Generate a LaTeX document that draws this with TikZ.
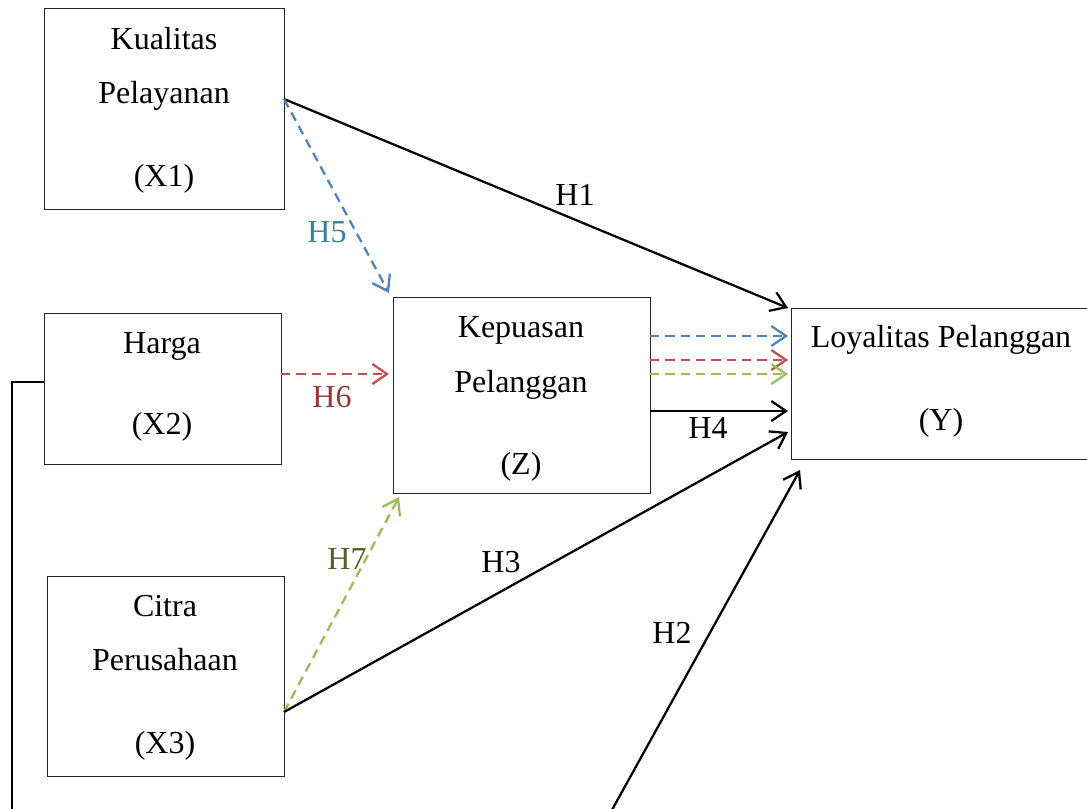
\documentclass[tikz,border=0pt]{standalone}
\usepackage{fontspec}
\setmainfont{Liberation Serif}
\usetikzlibrary{arrows.meta}
\definecolor{cblue}{HTML}{4F81BD}
\definecolor{cred}{HTML}{C0504D}
\definecolor{cgreen}{HTML}{9BBB59}
\definecolor{tblue}{HTML}{31849B}
\definecolor{tred}{HTML}{953735}
\definecolor{tgreen}{HTML}{4F6228}
\begin{document}
\begin{tikzpicture}[x=0.75pt,y=-0.75pt,
  box/.style={draw=black!85, line width=1pt, inner sep=0pt, anchor=north west},
  lbl/.style={inner sep=0pt, text height=16pt, text depth=0pt, font=\fontsize{24}{28}\selectfont},
  tip/.style={-{Straight Barb[length=11pt,width=15pt,line width=1.7pt]}},
  solidarrow/.style={tip, line width=1.7pt, black},
  dasharrow/.style={tip, line width=1.7pt, dash pattern=on 7pt off 4.5pt}]
\useasboundingbox (0,0) rectangle (1087,808);
\clip (0,0) rectangle (1087,808);
% boxes
\node[box, minimum width=180pt, minimum height=150.75pt] (x1) at (44,8) {};
\node[box, minimum width=177.75pt, minimum height=113.25pt] (x2) at (44,313) {};
\node[box, minimum width=177.75pt, minimum height=150pt] (x3) at (47,576) {};
\node[box, minimum width=192.75pt, minimum height=147pt] (z) at (393,297) {};
\node[box, minimum width=225pt, minimum height=113.25pt] (y) at (791,308) {};
% texts
\node[lbl] (x1a) at (164,39) {Kualitas};
\node[lbl] (x1b) at (164,93) {Pelayanan};
\node[lbl] (x1c) at (164,176) {(X1)};
\node[lbl] (x2a) at (162,343) {Harga};
\node[lbl] (x2b) at (162,424) {(X2)};
\node[lbl] (x3a) at (165,606) {Citra};
\node[lbl] (x3b) at (165,660) {Perusahaan};
\node[lbl] (x3c) at (165,743) {(X3)};
\node[lbl] (za) at (521,327) {Kepuasan};
\node[lbl] (zb) at (521,382) {Pelanggan};
\node[lbl] (zc) at (521,464) {(Z)};
\node[lbl] (ya) at (941,337) {Loyalitas Pelanggan};
\node[lbl] (yb) at (941,420) {(Y)};
% connector points
\coordinate (p1) at (284,99);
\coordinate (q1) at (788,308);
\coordinate (q5) at (389,293);
\coordinate (p6) at (281,374);
\coordinate (q6) at (389,374);
\coordinate (p3) at (284,712);
\coordinate (q3) at (788,432);
\coordinate (q7) at (399,497);
\coordinate (zb1) at (650,336);
\coordinate (yb1) at (788,336);
\coordinate (zr1) at (650,360);
\coordinate (yr1) at (788,360);
\coordinate (zg1) at (650,374);
\coordinate (yg1) at (788,374);
\coordinate (z4) at (650,411);
\coordinate (y4) at (788,411);
\coordinate (p2) at (607.5,818);
\coordinate (q2) at (800,470);
\coordinate (c2) at (44,382);
\coordinate (c2a) at (12,382);
\coordinate (c2b) at (12,820);
% connectors
\draw[solidarrow] (p1) -- (q1);
\draw[dasharrow, cblue] (p1) -- (q5);
\draw[dasharrow, cred] (p6) -- (q6);
\draw[dasharrow, cgreen] (p3) -- (q7);
\draw[solidarrow] (p3) -- (q3);
\draw[dasharrow, cblue] (zb1) -- (yb1);
\draw[dasharrow, cred] (zr1) -- (yr1);
\draw[dasharrow, cgreen] (zg1) -- (yg1);
\draw[solidarrow] (z4) -- (y4);
\draw[solidarrow] (p2) -- (q2);
\draw[line width=1.7pt] (c2) -- (c2a) -- (c2b);
% hypothesis labels
\node[lbl] (h1) at (575,195) {H1};
\node[lbl] (h2) at (672,633) {H2};
\node[lbl] (h3) at (501,562) {H3};
\node[lbl] (h4) at (708,428) {H4};
\node[lbl, text=tblue] (h5) at (327,232) {H5};
\node[lbl, text=tred] (h6) at (332,397) {H6};
\node[lbl, text=tgreen] (h7) at (347,559) {H7};
\end{tikzpicture}
\end{document}
